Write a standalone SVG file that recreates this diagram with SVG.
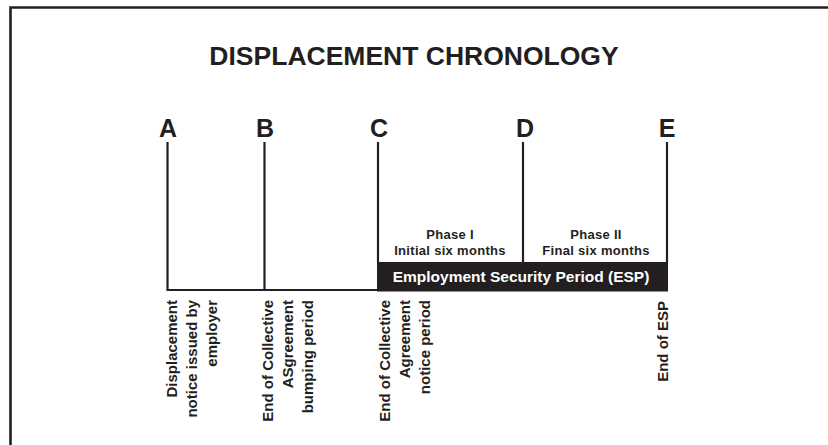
<svg xmlns="http://www.w3.org/2000/svg" width="828" height="445" viewBox="0 0 828 445">
  <style>
    .ink { stroke: #231f20; fill: none; }
    .txt { font-family: "Liberation Sans", Arial, sans-serif; font-weight: bold; fill: #231f20; }
    .title { font-size: 26.5px; text-anchor: middle; }
    .mark { font-size: 25px; text-anchor: middle; }
    .phase { font-size: 13px; letter-spacing: 0.3px; text-anchor: middle; }
    .bar-label { font-size: 15.5px; text-anchor: middle; fill: #ffffff; }
    .vlabel { font-size: 15px; text-anchor: end; }
  </style>
  <rect width="828" height="445" fill="#ffffff"/>
  <!-- frame -->
  <path class="ink" stroke-width="2.6" d="M10.5,445 V7.5 H828"/>

  <text class="txt title" x="414" y="65">DISPLACEMENT CHRONOLOGY</text>

  <!-- timeline connectors -->
  <g id="connectors" class="ink" stroke-width="2.2">
    <path d="M167.5,142 V290 H378"/>
    <path d="M264.5,142 V290"/>
    <path d="M378,142 V262"/>
    <path d="M523,142 V262"/>
    <path d="M667,142 V262"/>
  </g>

  <g id="esp-bar">
    <rect x="377" y="262" width="291" height="29.5" fill="#231f20"/>
    <text class="txt bar-label" x="521" y="282">Employment Security Period (ESP)</text>
  </g>

  <g id="phase-1">
    <text class="txt phase" x="450" y="239">Phase I</text>
    <text class="txt phase" x="450" y="255">Initial six months</text>
  </g>
  <g id="phase-2">
    <text class="txt phase" x="596" y="239">Phase II</text>
    <text class="txt phase" x="596" y="255">Final six months</text>
  </g>

  <g id="node-a">
    <text class="txt mark" x="168" y="137">A</text>
    <text class="txt vlabel" transform="translate(177,300) rotate(-90)">Displacement</text>
    <text class="txt vlabel" transform="translate(197,300) rotate(-90)">notice issued by</text>
    <text class="txt vlabel" transform="translate(217,300) rotate(-90)">employer</text>
  </g>
  <g id="node-b">
    <text class="txt mark" x="265" y="137">B</text>
    <text class="txt vlabel" transform="translate(273,300) rotate(-90)">End of Collective</text>
    <text class="txt vlabel" transform="translate(293,300) rotate(-90)">ASgreement</text>
    <text class="txt vlabel" transform="translate(313,300) rotate(-90)">bumping period</text>
  </g>
  <g id="node-c">
    <text class="txt mark" x="379" y="137">C</text>
    <text class="txt vlabel" transform="translate(390,300) rotate(-90)">End of Collective</text>
    <text class="txt vlabel" transform="translate(410,300) rotate(-90)">Agreement</text>
    <text class="txt vlabel" transform="translate(430,300) rotate(-90)">notice period</text>
  </g>
  <g id="node-d">
    <text class="txt mark" x="525" y="137">D</text>
  </g>
  <g id="node-e">
    <text class="txt mark" x="667" y="137">E</text>
    <text class="txt vlabel" transform="translate(668,301) rotate(-90)">End of ESP</text>
  </g>
</svg>
